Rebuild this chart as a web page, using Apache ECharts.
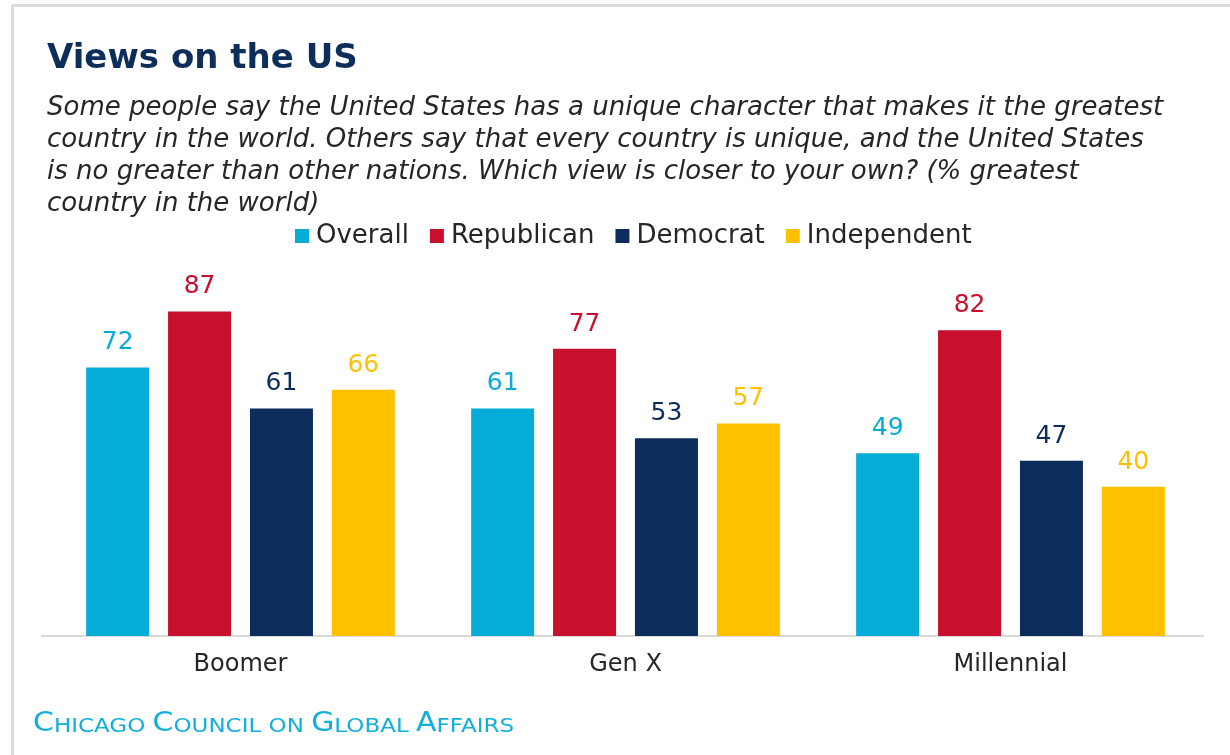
<!DOCTYPE html>
<html>
<head>
<meta charset="utf-8">
<title>Views on the US</title>
<script src="https://cdn.jsdelivr.net/npm/echarts@6/dist/echarts.min.js"></script>
<style>
  html, body { margin: 0; padding: 0; background: #ffffff; }
  #chart { width: 1230px; height: 755px; }
</style>
</head>
<body>
<div id="chart"></div>
<script>
// Generations on the x axis, one bar per party group
const categories = ['Boomer', 'Gen X', 'Millennial'];
const seriesNames = ['Overall', 'Republican', 'Democrat', 'Independent'];
const overall = [72, 61, 49];
const republican = [87, 77, 82];
const democrat = [61, 53, 47];
const independent = [66, 57, 40];

const seriesColors = ['#05acd8', '#c8102e', '#0c2c5c', '#ffc000'];
const seriesValues = [overall, republican, democrat, independent];

const titleText = 'Views on the US';
const questionLines = [
  'Some people say the United States has a unique character that makes it the greatest',
  'country in the world. Others say that every country is unique, and the United States',
  'is no greater than other nations. Which view is closer to your own? (% greatest',
  'country in the world)'
];

const FONT = '"DejaVu Sans", sans-serif';

const chart = echarts.init(document.getElementById('chart'), null, { renderer: 'canvas' });

const graphics = [
  // frame edges
  { type: 'line', shape: { x1: 12, y1: 5.5, x2: 1230, y2: 5.5 }, style: { stroke: '#dcdcdc', lineWidth: 3 } },
  { type: 'line', shape: { x1: 12.5, y1: 5, x2: 12.5, y2: 755 }, style: { stroke: '#dcdcdc', lineWidth: 3 } },
  // baseline runs a little past the first group
  { type: 'line', shape: { x1: 41, y1: 636, x2: 49, y2: 636 }, style: { stroke: '#d9d9d9', lineWidth: 2 } },
  // title
  { type: 'text', x: 47, y: 59, style: {
      text: titleText, fill: '#0d2d5b', font: 'bold 34px ' + FONT, verticalAlign: 'middle' } },
  // footer in small caps, slightly widened
  { type: 'text', x: 33, y: 723, scaleX: 1.15, style: {
      text: '{b|C}{s|HICAGO }{b|C}{s|OUNCIL ON }{b|G}{s|LOBAL }{b|A}{s|FFAIRS}',
      verticalAlign: 'middle',
      rich: {
        b: { fontFamily: FONT, fontSize: 26, fill: '#12afdb', verticalAlign: 'bottom', lineHeight: 28 },
        s: { fontFamily: FONT, fontSize: 20, fill: '#12afdb', verticalAlign: 'bottom', lineHeight: 28 }
      } } }
];
questionLines.forEach((line, i) => {
  graphics.push({ type: 'text', left: 47, top: 95 + i * 32, style: {
    text: line, fill: '#262626', font: 'italic 26px ' + FONT } });
});

chart.setOption({
  animation: false,
  backgroundColor: '#ffffff',
  color: seriesColors,
  legend: {
    data: seriesNames,
    left: 290,
    top: 218,
    icon: 'rect',
    itemWidth: 14,
    itemHeight: 14,
    itemGap: 21,
    textStyle: { fontFamily: FONT, fontSize: 26, color: '#262626', lineHeight: 26, padding: [0, 0, 0, 2] }
  },
  grid: { left: 48, right: 27, top: 263, bottom: 119, containLabel: false },
  xAxis: {
    type: 'category',
    data: categories,
    axisLine: { show: true, lineStyle: { color: '#d9d9d9', width: 2 } },
    axisTick: { show: false },
    axisLabel: { fontFamily: FONT, fontSize: 24, color: '#262626', margin: 17 }
  },
  yAxis: {
    type: 'value', min: 0, max: 100, show: false,
    splitLine: { show: false }
  },
  series: seriesNames.map((name, i) => ({
    name: name,
    type: 'bar',
    data: seriesValues[i],
    barWidth: 63,
    barGap: '30%',
    itemStyle: { color: seriesColors[i] },
    label: {
      show: true,
      position: 'top',
      distance: 12,
      fontFamily: FONT,
      fontSize: 25,
      color: seriesColors[i]
    }
  })),
  graphic: graphics
});
</script>
</body>
</html>
